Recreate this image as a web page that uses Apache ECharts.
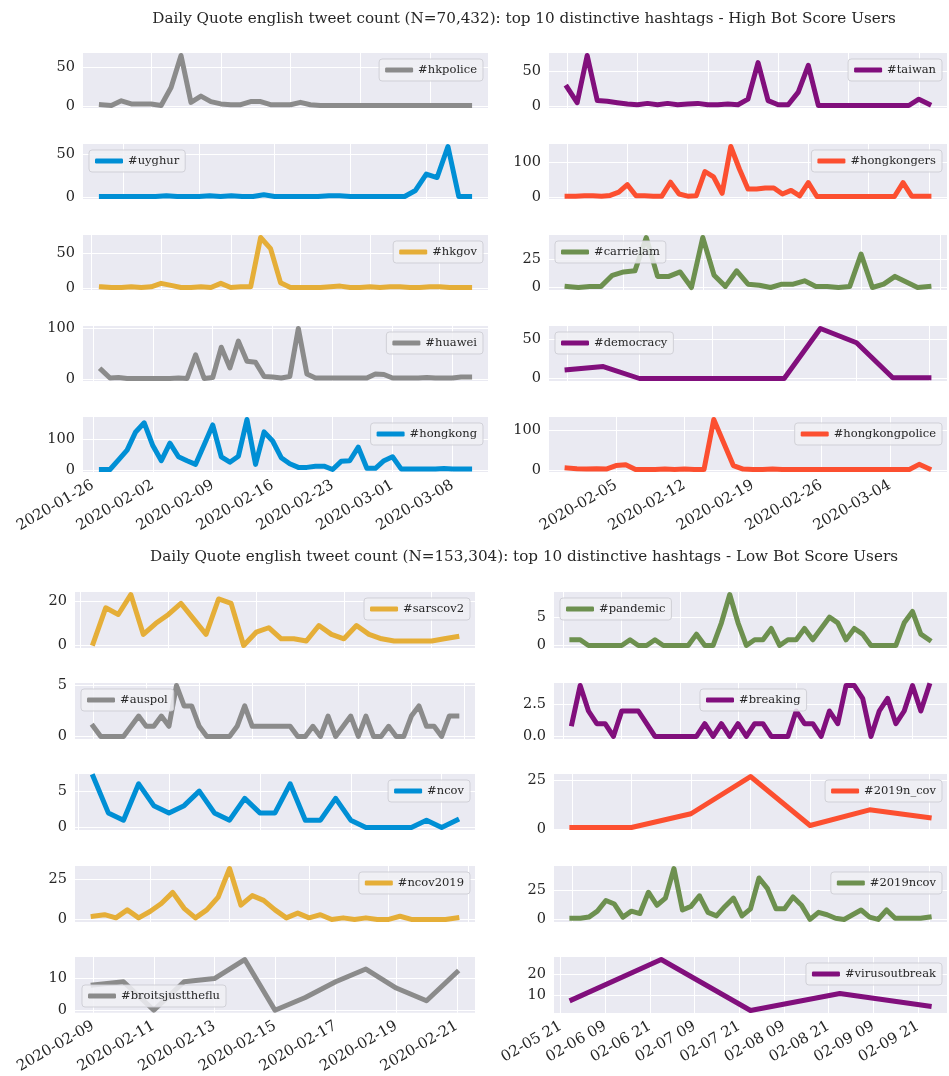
<!DOCTYPE html>
<html>
<head>
<meta charset="utf-8">
<title>Daily Quote english tweet count - top 10 distinctive hashtags</title>
<script src="https://cdn.jsdelivr.net/npm/echarts@6/dist/echarts.min.js"></script>
<style>
  html, body { margin: 0; padding: 0; background: #fff; }
  #chart { width: 949px; height: 1076px; }
</style>
</head>
<body>
<div id="chart"></div>
<script>
// titles
const titleHigh = 'Daily Quote english tweet count (N=70,432): top 10 distinctive hashtags - High Bot Score Users';
const titleLow = 'Daily Quote english tweet count (N=153,304): top 10 distinctive hashtags - Low Bot Score Users';

// hashtags, row by row (left, right)
const highTags = ['#hkpolice', '#taiwan', '#uyghur', '#hongkongers', '#hkgov', '#carrielam', '#huawei', '#democracy', '#hongkong', '#hongkongpolice'];
const lowTags = ['#sarscov2', '#pandemic', '#auspol', '#breaking', '#ncov', '#2019n_cov', '#ncov2019', '#2019ncov', '#broitsjusttheflu', '#virusoutbreak'];

// daily counts - high bot score users
const hkpolice = [2,1,7,3,3,3,1,24,65,5,13,6,3,2,2,6,6,2,2,2,5,2,1,1,1,1,1,1,1,1,1,1,1,1,1,1,1,1];
const taiwan = [27,5,72,8,7,5,3,2,4,2,4,2,3,4,2,2,3,2,10,62,8,2,2,20,58,1,1,1,1,1,1,1,1,1,1,10,3];
const uyghur = [1,1,1,1,1,1,2,1,1,1,2,1,2,1,1,3,1,1,1,1,1,2,2,1,1,1,1,1,1,8,27,23,59,1,1];
const hongkongers = [4,4,5,5,4,6,15,36,5,5,4,4,43,10,4,5,73,58,12,143,80,24,24,27,27,10,20,5,42,3,3,3,3,3,3,3,3,3,3,42,4,4,4];
const hkgov = [2,1,1,2,1,2,7,4,1,1,2,1,7,1,2,2,73,57,8,1,1,1,1,2,3,1,1,2,1,2,2,1,1,2,2,1,1,1];
const carrielam = [1,0,1,1,11,14,15,45,10,10,14,0,45,11,1,15,3,2,0,3,3,6,1,1,0,1,30,0,3,10,5,0,1];
const huawei = [18,2,3,1,1,1,1,1,1,2,1,48,1,3,63,22,75,35,33,5,4,2,5,100,10,2,2,2,2,2,2,2,10,9,2,2,2,2,3,2,2,2,4,4];
const democracy = [11,15,0,0,0,0,0,63,45,1,1];
const hongkong = [1,1,33,65,125,155,80,30,88,43,30,18,83,148,43,25,45,166,18,125,95,40,20,8,8,12,12,1,28,30,75,5,5,30,43,3,3,3,3,3,4,3,3,3];
const hongkongpolice = [6,4,3,4,3,12,14,2,2,2,3,2,3,2,2,128,70,12,3,2,2,3,2,2,2,2,2,2,2,2,2,2,2,2,2,2,15,4];

// daily counts - low bot score users
const sarscov2 = [1,17,14,23,5,10,14,19,12,5,21,19,0,6,8,3,3,2,9,5,3,9,5,3,2,2,2,2,3,4];
const pandemic = [1,1,0,0,0,0,0,1,0,0,1,0,0,0,0,2,0,0,4,9,4,0,1,1,3,0,1,1,3,1,3,5,4,1,3,2,0,0,0,0,4,6,2,1];
const auspol = [1,0,0,0,0,1,2,1,1,2,1,5,3,3,1,0,0,0,0,1,3,1,1,1,1,1,1,0,0,1,0,2,0,1,2,0,2,0,0,1,0,0,2,3,1,1,0,2,2];
const breaking = [1,4,2,1,1,0,2,2,2,1,0,0,0,0,0,0,1,0,1,0,1,0,1,1,0,0,0,2,1,1,0,2,1,4,4,3,0,2,3,1,2,4,2,4];
const ncov = [7,2,1,6,3,2,3,5,2,1,4,2,2,6,1,1,4,1,0,0,0,0,1,0,1];
const n2019_cov = [1,1,8,27,2,10,6];
const ncov2019 = [2,3,1,6,1,5,10,17,7,1,6,14,32,9,15,12,6,1,4,1,3,0,1,0,1,0,0,2,0,0,0,0,1];
const ncov2019b = [1,1,2,7,16,13,2,7,5,23,12,18,43,8,11,20,6,3,11,18,3,9,35,26,9,9,19,12,0,6,4,1,0,4,8,2,0,8,1,1,1,1,2];
const broitsjusttheflu = [8,9,0,9,10,16,0,4,9,13,7,3,12];
const virusoutbreak = [8,27,3,11,5];

const highValues = [hkpolice, taiwan, uyghur, hongkongers, hkgov, carrielam, huawei, democracy, hongkong, hongkongpolice];
const lowValues = [sarscov2, pandemic, auspol, breaking, ncov, n2019_cov, ncov2019, ncov2019b, broitsjusttheflu, virusoutbreak];

// y tick labels
const highYTicks = [[0,50],[0,50],[0,50],[0,100],[0,50],[0,25],[0,100],[0,50],[0,100],[0,100]];
const lowYTicks = [[0,20],[0,5],[0,5],[0,2.5],[0,5],[0,25],[0,25],[0,25],[0,10],[10,20]];

// x tick labels of the bottom row, and first date of those series
const hongkongDates = ['2020-01-26','2020-02-02','2020-02-09','2020-02-16','2020-02-23','2020-03-01','2020-03-08'];
const hongkongpoliceDates = ['2020-02-05','2020-02-12','2020-02-19','2020-02-26','2020-03-04'];
const broitsDates = ['2020-02-09','2020-02-11','2020-02-13','2020-02-15','2020-02-17','2020-02-19','2020-02-21'];
const virusHours = ['02-05 21','02-06 09','02-06 21','02-07 09','02-07 21','02-08 09','02-08 21','02-09 09','02-09 21'];
const highFirstDay = ['2020-01-27', '2020-01-31'];
const lowFirstDay = ['2020-02-09', '2020-02-06'];

// hidden x axes: first gridline (days from series start) and spacing
const highGridFirst = [5,0,2,0,-1,5,-1,0];
const highGridStep = [7,7,7,7,7,7,7,2];
const lowGridFirst = [-1,-1,0,-1,-1,0,5,0];
const lowGridStep = [7,7,7,7,6,1,7,7];

const palette = ['#8b8b8b', '#810f7c', '#008fd5', '#fc4f30', '#e5ae38', '#6d904f'];
const FONT = 'DejaVu Serif';
const INK = '#262626';
const DAY = 86400000;

function toTime(label) {
  if (/^\d{2}-\d{2} \d{2}$/.test(label)) return Date.parse('2020-' + label.replace(' ', 'T') + ':00:00Z');
  return Date.parse(label + 'T00:00:00Z');
}

function periodicTicks(first, step, lo, hi) {
  const out = [];
  let k = Math.ceil((lo - first) / step - 1e-9);
  while (first + k * step <= hi + 1e-9) {
    out.push(+(first + k * step).toFixed(4));
    k++;
  }
  return out;
}

const layout = [
  { rows: [53, 144, 235, 326, 417], h: 55, cols: [[83, 405], [549, 398]] },
  { rows: [592, 683, 774, 866, 957], h: 56, cols: [[75, 400], [554, 393]] }
];
const legendPlace = [
  ['ur','ur','ul','ur','ur','ul','ur','ul','ur','ur'],
  ['ur','ul','ul','uc','ur','ur','ur','ur','ll','ur']
];

const groups = [
  { tags: highTags, values: highValues, yTicks: highYTicks, first: highGridFirst, step: highGridStep,
    labels: [hongkongDates, hongkongpoliceDates], starts: highFirstDay },
  { tags: lowTags, values: lowValues, yTicks: lowYTicks, first: lowGridFirst, step: lowGridStep,
    labels: [broitsDates, virusHours], starts: lowFirstDay }
];

const grids = [], xAxes = [], yAxes = [], series = [], legends = [];

groups.forEach((grp, gi) => {
  const lay = layout[gi];
  grp.tags.forEach((tag, j) => {
    const idx = gi * 10 + j;
    const vals = grp.values[j];
    const n = vals.length;
    const row = Math.floor(j / 2), col = j % 2;
    const [left, width] = lay.cols[col];
    const top = lay.rows[row];
    const color = palette[idx % palette.length];

    grids.push({ left: left, top: top, width: width, height: lay.h, show: true,
      backgroundColor: '#EAEAF2', borderWidth: 0 });

    const xLo = -0.05 * (n - 1), xHi = 1.05 * (n - 1);
    let xTicks, xFormatter = null;
    if (row === 4) {
      const lbls = grp.labels[col];
      const t0 = Date.parse(grp.starts[col] + 'T00:00:00Z');
      xTicks = lbls.map(l => +((toTime(l) - t0) / DAY).toFixed(4));
      xFormatter = v => {
        const k = xTicks.findIndex(t => Math.abs(t - v) < 1e-3);
        return k >= 0 ? lbls[k] : '';
      };
    } else {
      xTicks = periodicTicks(grp.first[j], grp.step[j], xLo, xHi);
    }
    xAxes.push({
      type: 'value', gridIndex: idx, min: xLo, max: xHi,
      axisLine: { show: false },
      axisTick: { show: false, customValues: xTicks },
      splitLine: { show: true, lineStyle: { color: '#ffffff', width: 1 } },
      axisLabel: xFormatter ? {
        show: true, customValues: xTicks, formatter: xFormatter, rotate: 30, margin: 12,
        fontFamily: FONT, fontSize: 15, color: INK
      } : { show: false }
    });

    const mn = Math.min(...vals), mx = Math.max(...vals);
    const pad = 0.05 * (mx - mn);
    const yt = grp.yTicks[j];
    const dec = yt.some(v => v % 1 !== 0);
    yAxes.push({
      type: 'value', gridIndex: idx, min: mn - pad, max: mx + pad,
      axisLine: { show: false },
      axisTick: { show: false, customValues: yt },
      splitLine: { show: true, lineStyle: { color: '#ffffff', width: 1 } },
      axisLabel: { show: true, customValues: yt, margin: 8,
        formatter: v => dec ? Number(v).toFixed(1) : String(Math.round(v)),
        fontFamily: FONT, fontSize: 14.5, color: INK }
    });

    series.push({
      name: tag, type: 'line', xAxisIndex: idx, yAxisIndex: idx,
      data: vals.map((v, i) => [i, v]),
      showSymbol: false, silent: true, color: color,
      lineStyle: { width: 5, color: color, cap: 'square', join: 'round' },
      emphasis: { disabled: true }
    });

    const place = legendPlace[gi][j];
    const lg = {
      data: [tag], orient: 'horizontal', icon: 'roundRect', itemWidth: 28, itemHeight: 5,
      backgroundColor: 'rgba(240,240,245,0.85)', borderColor: 'rgba(205,205,212,0.9)', borderWidth: 1,
      borderRadius: 3, padding: [5, 6, 5, 6], selectedMode: false,
      textStyle: { fontFamily: FONT, fontSize: 11.5, color: INK }
    };
    if (place === 'ur') { lg.right = 949 - (left + width - 5); lg.top = top + 6; }
    else if (place === 'ul') { lg.left = left + 6; lg.top = top + 6; }
    else if (place === 'uc') { lg.left = left + 146; lg.top = top + 6; }
    else { lg.left = left + 7; lg.top = top + lay.h - 28; }
    legends.push(lg);
  });
});

const chart = echarts.init(document.getElementById('chart'), null, { renderer: 'canvas' });
chart.setOption({
  animation: false,
  backgroundColor: '#ffffff',
  title: [
    { text: titleHigh, left: 519, top: 7, textAlign: 'center',
      textStyle: { fontFamily: FONT, fontSize: 15.2, fontWeight: 'normal', color: INK } },
    { text: titleLow, left: 519, top: 545, textAlign: 'center',
      textStyle: { fontFamily: FONT, fontSize: 15.2, fontWeight: 'normal', color: INK } }
  ],
  grid: grids,
  xAxis: xAxes,
  yAxis: yAxes,
  legend: legends,
  series: series
});
</script>
</body>
</html>
